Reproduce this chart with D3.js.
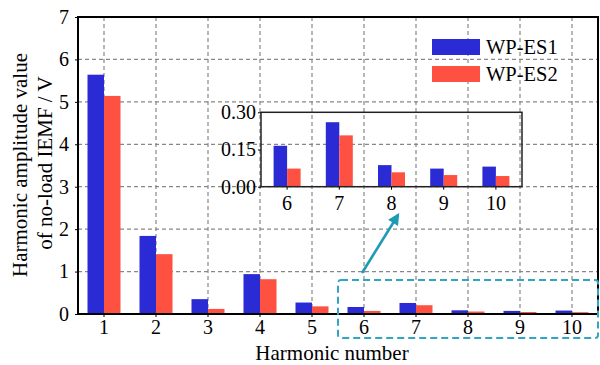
<!DOCTYPE html>
<html><head><meta charset="utf-8">
<script src="https://cdn.jsdelivr.net/npm/d3@7"></script>
<style>body{margin:0;background:#fff}svg{display:block}text{font-family:"Liberation Serif","Times New Roman",serif;fill:#000}</style>
</head><body><svg id="c" width="600" height="365"></svg>
<script>
const harmonics = [1,2,3,4,5,6,7,8,9,10];
const es1 = [5.64,1.84,0.35,0.94,0.27,0.165,0.26,0.087,0.073,0.081];
const es2 = [5.14,1.41,0.12,0.82,0.18,0.073,0.207,0.058,0.047,0.043];
const seriesNames = ["WP-ES1","WP-ES2"];
const colors = ["#2b2bd6","#ff5141"];
const yTicks = [0,1,2,3,4,5,6,7];
const insetHarmonics = [6,7,8,9,10];
const insetTicks = [0,0.15,0.30];

const FONT = '"Liberation Serif","Times New Roman",serif';
const svg = d3.select("#c");
const L=78,R=598,T=17,B=314;
const x = d3.scaleBand().domain(harmonics).range([L,R]).padding(0);
const y = d3.scaleLinear().domain([0,7]).range([B,T]);
const sub = d3.scaleBand().domain(seriesNames).range([0,33]);
const off = (x.bandwidth()-33)/2;

// grid
const g = svg.append("g");
g.selectAll("line.h").data(yTicks.filter(v=>v>0&&v<7)).join("line")
 .attr("x1",L).attr("x2",R).attr("y1",d=>y(d)).attr("y2",d=>y(d))
 .attr("stroke","#888").attr("stroke-dasharray","4,3").attr("stroke-width",1.2);
g.selectAll("line.v").data(harmonics).join("line")
 .attr("x1",d=>x(d)+x.bandwidth()/2).attr("x2",d=>x(d)+x.bandwidth()/2).attr("y1",T).attr("y2",B)
 .attr("stroke","#888").attr("stroke-dasharray","4,3").attr("stroke-width",1.2);

// bars
[es1,es2].forEach((s,si)=>{
  svg.append("g").selectAll("rect").data(harmonics).join("rect")
   .attr("x",(d)=>x(d)+off+sub(seriesNames[si]))
   .attr("width",sub.bandwidth())
   .attr("y",(d,i)=>y(s[i])).attr("height",(d,i)=>B-y(s[i]))
   .attr("fill",colors[si]);
});

// frame
svg.append("rect").attr("x",L).attr("y",T).attr("width",R-L).attr("height",B-T)
 .attr("fill","none").attr("stroke","#000").attr("stroke-width",2);

// axes
const ax = svg.append("g").attr("transform",`translate(0,${B})`)
 .call(d3.axisBottom(x).tickSize(3).tickPadding(6));
ax.select(".domain").remove();
ax.selectAll("text").attr("font-size",20).style("font-family",FONT).attr("dy",null).attr("y",20);
const ay = svg.append("g").attr("transform",`translate(${L},0)`)
 .call(d3.axisLeft(y).tickValues(yTicks).tickSize(3).tickPadding(6).tickFormat(d3.format("d")));
ay.select(".domain").remove();
ay.selectAll("text").attr("font-size",20).style("font-family",FONT);

svg.append("text").attr("x",(L+R)/2-6).attr("y",360).attr("text-anchor","middle").attr("font-size",21).style("font-family",FONT).text("Harmonic number");
svg.append("text").attr("transform","translate(27,165) rotate(-90)").attr("text-anchor","middle").attr("font-size",21).style("font-family",FONT).text("Harmonic amplitude value");
svg.append("text").attr("transform","translate(52,163) rotate(-90)").attr("text-anchor","middle").attr("font-size",21).style("font-family",FONT).text("of no-load IEMF / V");

// legend
seriesNames.forEach((n,i)=>{
  svg.append("rect").attr("x",432).attr("y",39+i*27).attr("width",48).attr("height",16).attr("fill",colors[i]);
  svg.append("text").attr("x",486).attr("y",54+i*27).attr("font-size",20.5).style("font-family",FONT).text(n);
});

// inset
const iL=261,iR=522,iT=112.3,iB=186.7;
const xi = d3.scaleBand().domain(insetHarmonics).range([iL,iR]).padding(0);
const yi = d3.scaleLinear().domain([0,0.3]).range([iB,iT]);
const subi = d3.scaleBand().domain(seriesNames).range([0,27]);
const offi = (xi.bandwidth()-27)/2;
[es1,es2].forEach((s,si)=>{
  svg.append("g").selectAll("rect").data(insetHarmonics).join("rect")
   .attr("x",d=>xi(d)+offi+subi(seriesNames[si]))
   .attr("width",subi.bandwidth())
   .attr("y",d=>yi(s[harmonics.indexOf(d)])).attr("height",d=>iB-yi(s[harmonics.indexOf(d)]))
   .attr("fill",colors[si]);
});
svg.append("rect").attr("x",iL).attr("y",iT).attr("width",iR-iL).attr("height",iB-iT)
 .attr("fill","none").attr("stroke","#222").attr("stroke-width",1.5);
const ix = svg.append("g").attr("transform",`translate(0,${iB})`).call(d3.axisBottom(xi).tickSize(3).tickPadding(5));
ix.select(".domain").remove();
ix.selectAll("text").attr("font-size",20).style("font-family",FONT).attr("dy",null).attr("y",23);
const iy = svg.append("g").attr("transform",`translate(${iL},0)`).call(d3.axisLeft(yi).tickValues(insetTicks).tickSize(3).tickPadding(2).tickFormat(d3.format(".2f")));
iy.select(".domain").remove();
iy.selectAll("text").attr("font-size",20).style("font-family",FONT);

// dashed highlight box and arrow
svg.append("rect").attr("x",338).attr("y",280).attr("width",260).attr("height",58).attr("rx",3)
 .attr("fill","none").attr("stroke","#30a6c2").attr("stroke-width",2).attr("stroke-dasharray","7,4");
svg.append("defs").append("marker").attr("id","ah").attr("viewBox","0 0 10 10").attr("refX",8).attr("refY",5)
 .attr("markerWidth",5.5).attr("markerHeight",4.5).attr("orient","auto")
 .append("path").attr("d","M0,0L10,5L0,10z").attr("fill","#1f9ab5");
svg.append("line").attr("x1",362).attr("y1",273).attr("x2",398).attr("y2",215)
 .attr("stroke","#1f9ab5").attr("stroke-width",2.6).attr("marker-end","url(#ah)");
</script></body></html>
